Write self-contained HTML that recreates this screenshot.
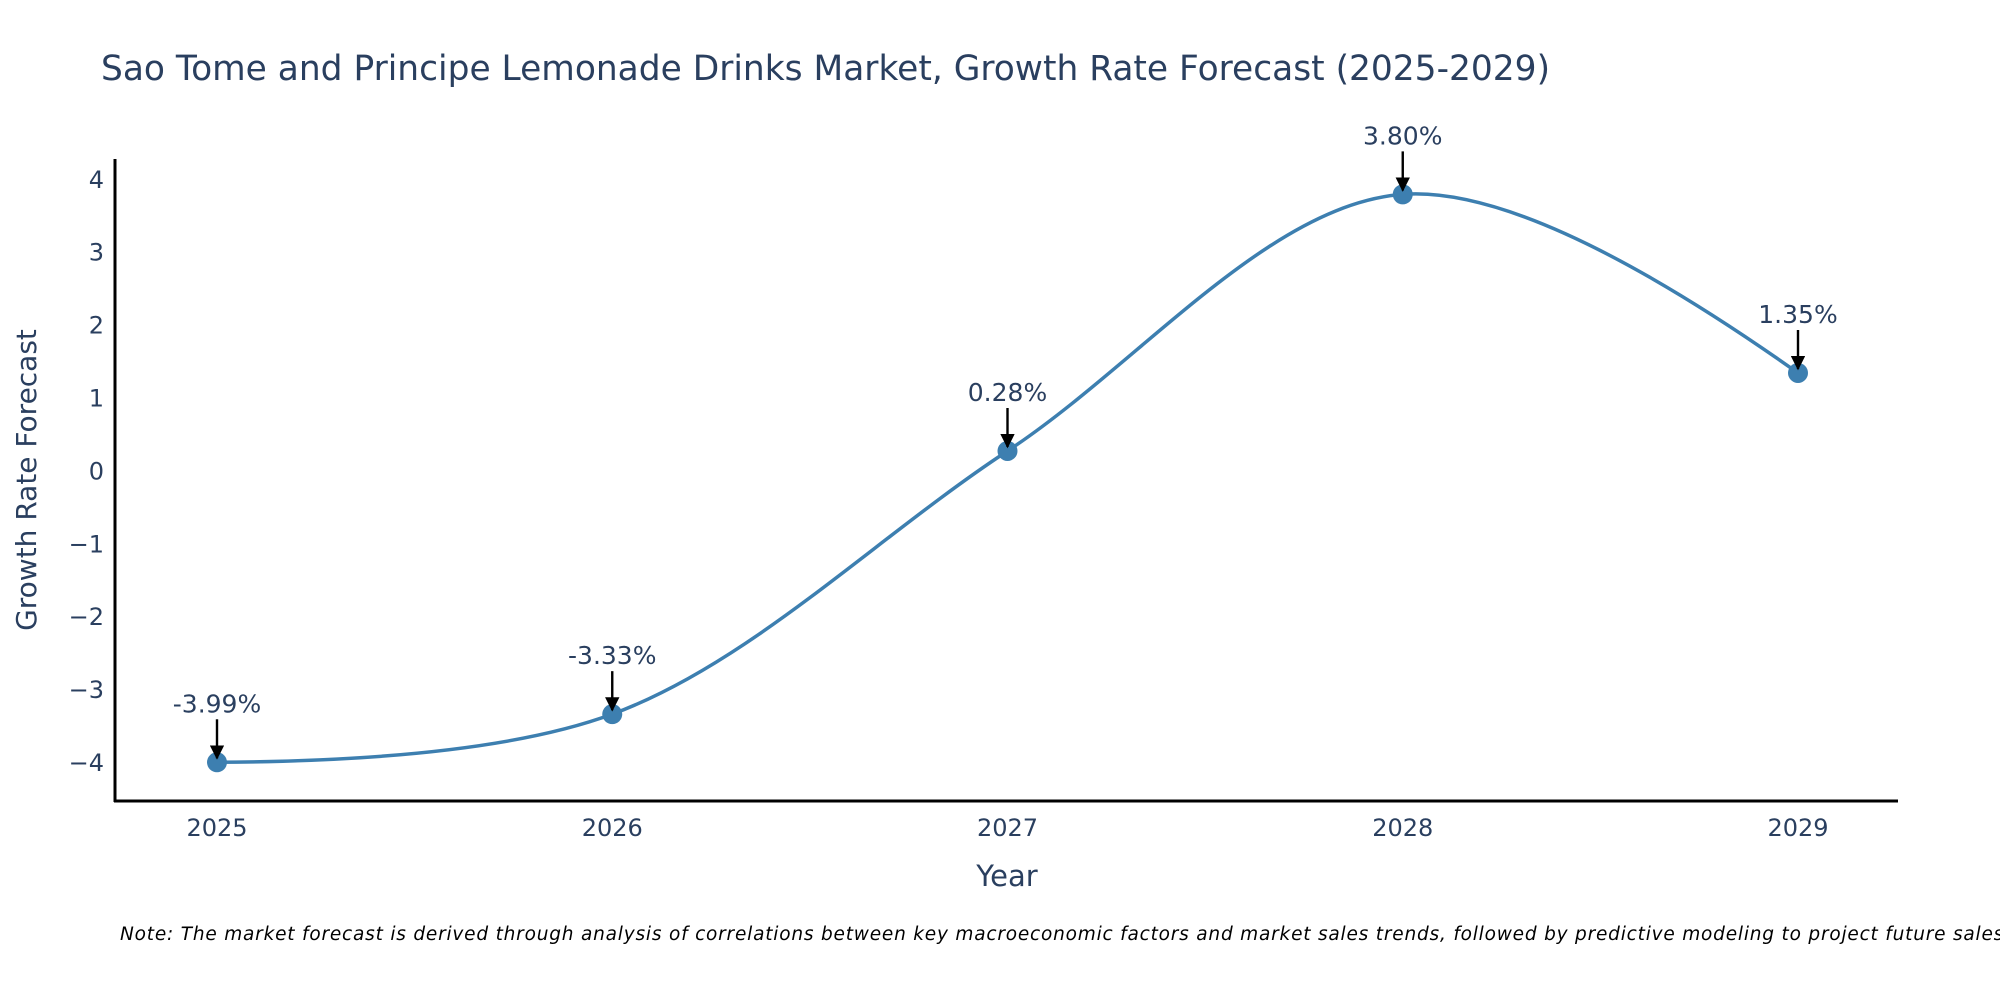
<!DOCTYPE html>
<html><head><meta charset="utf-8"><style>body{margin:0;background:#fff}svg{display:block;font-family:"DejaVu Sans","Liberation Sans",sans-serif}</style></head>
<body>
<svg id="chart" width="2000" height="1000">
<defs><marker id="ah" viewBox="0 0 10 10" refX="9" refY="5" markerWidth="6" markerHeight="6" orient="auto"><path d="M0,0 L10,5 L0,10 z" fill="#000"/></marker></defs>
<text x="101" y="80" font-size="35" fill="#2a3f5f" textLength="1449" lengthAdjust="spacingAndGlyphs">Sao Tome and Principe Lemonade Drinks Market, Growth Rate Forecast (2025-2029)</text>
<g id="yticks"></g><g id="xticks"></g>
<line x1="115" y1="159" x2="115" y2="802" stroke="#000" stroke-width="3"/>
<line x1="114" y1="801" x2="1898" y2="801" stroke="#000" stroke-width="3"/>
<text transform="translate(36,480) rotate(-90)" text-anchor="middle" font-size="28" fill="#2a3f5f">Growth Rate Forecast</text>
<text x="1007" y="886" text-anchor="middle" font-size="29" fill="#2a3f5f">Year</text>
<path id="line" fill="none" stroke="#3d7fb0" stroke-width="3.5"/>
<g id="marks"></g>
<text x="120" y="940" font-size="18.5" font-style="italic" fill="#000" textLength="1890">Note: The market forecast is derived through analysis of correlations between key macroeconomic factors and market sales trends, followed by predictive modeling to project future sales.</text>
</svg>
<script>
const years=[2025,2026,2027,2028,2029];
const values=[-3.99,-3.33,0.28,3.80,1.35];
const labels=["-3.99%","-3.33%","0.28%","3.80%","1.35%"];
const yTicks=[-4,-3,-2,-1,0,1,2,3,4];
const NS="http://www.w3.org/2000/svg";
const xs=y=>217+(y-2025)*395.25;
const ys=v=>763-(v+4)*72.9;
function mk(t,a,p){const e=document.createElementNS(NS,t);for(const k in a)e.setAttribute(k,a[k]);p.appendChild(e);return e;}
const yt=document.getElementById('yticks');
yTicks.forEach(v=>{const t=mk('text',{x:104,y:ys(v)+8,'text-anchor':'end','font-size':24,fill:'#2a3f5f'},yt);


t.textContent=v<0?'\u2212'+(-v):String(v);});
const xt=document.getElementById('xticks');
years.forEach(y=>{const t=mk('text',{x:xs(y),y:836,'text-anchor':'middle','font-size':24,fill:'#2a3f5f'},xt);


t.textContent=y;});
const pts=years.map((y,i)=>[xs(y),ys(values[i])]);
function tang(p0,p1,p2){const dx1=p1[0]-p0[0],dy1=p1[1]-p0[1],dx2=p2[0]-p1[0],dy2=p2[1]-p1[1];
const d1a=Math.pow(dx1*dx1+dy1*dy1,0.25),d2a=Math.pow(dx2*dx2+dy2*dy2,0.25);
const nx=d2a*d2a*dx1+d1a*d1a*dx2,ny=d2a*d2a*dy1+d1a*d1a*dy2;
const den1=3*d2a*(d1a+d2a),den2=3*d1a*(d1a+d2a);
return [[p1[0]-nx/den1,p1[1]-ny/den1],[p1[0]+nx/den2,p1[1]+ny/den2]];}
const T=[];for(let i=1;i<pts.length-1;i++)T.push(tang(pts[i-1],pts[i],pts[i+1]));
let d='M'+pts[0]+'Q'+T[0][0]+' '+pts[1];
for(let i=1;i<pts.length-2;i++)d+='C'+T[i-1][1]+' '+T[i][0]+' '+pts[i+1];
d+='Q'+T[T.length-1][1]+' '+pts[pts.length-1];
document.getElementById('line').setAttribute('d',d);
const mg=document.getElementById('marks');
pts.forEach((p,i)=>{const c=mk('circle',{cx:p[0],cy:p[1],r:10,fill:'#3d7fb0'},mg);


const l=mk('line',{x1:p[0],y1:p[1]-43,x2:p[0],y2:p[1]-4,stroke:'#000','stroke-width':2.4,'marker-end':'url(#ah)'},mg);


const t=mk('text',{x:p[0],y:p[1]-50,'text-anchor':'middle','font-size':25,fill:'#2a3f5f'},mg);


t.textContent=labels[i];});
</script>
</body></html>
